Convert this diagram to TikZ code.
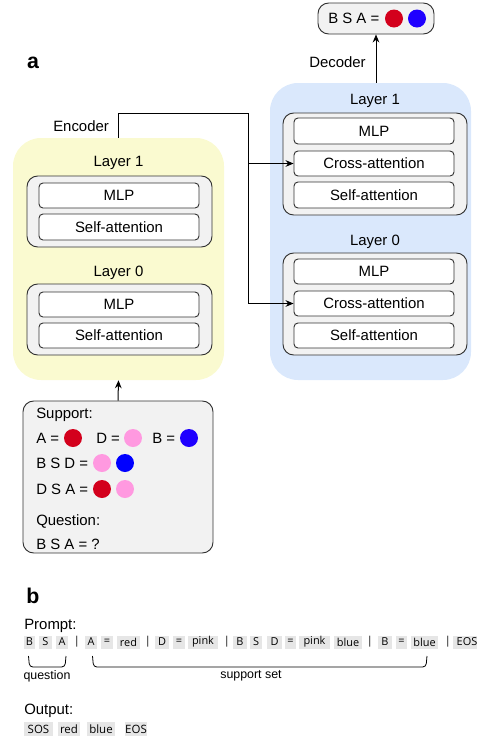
\documentclass[tikz,border=0pt]{standalone}
\usepackage{fontspec}
\setmainfont{Liberation Sans}
\newfontfamily\tokfont{Open Sans}
\usetikzlibrary{arrows.meta}

\definecolor{encfill}{HTML}{FAFAD0}
\definecolor{decfill}{HTML}{DAE8FC}
\definecolor{grpfill}{HTML}{F2F2F2}
\definecolor{edge}{HTML}{333333}
\definecolor{cred}{HTML}{D3001C}
\definecolor{cpink}{HTML}{FF99E0}
\definecolor{cblue}{HTML}{1F00FF}
\definecolor{tokfill}{HTML}{E6E6E6}

% box given by its corners (x1,y1) and (x2,y2) in pixel units
\newcommand\rbox[7]{\node[#6, minimum width={(#4-#2)*0.75pt}, minimum height={(#5-#3)*0.75pt}, inner sep=0pt] (#1) at ({(#2+#4)/2},{(#3+#5)/2}) {#7};}
% token chip from x1 to x2 on a row centred at y
\newcommand\tok[5]{\node[tokchip, minimum width={(#3-#2)*0.75pt}] (#1) at ({(#2+#3)/2},#4) {#5};}
\newcommand\otok[5]{\node[tokchip, outtok, minimum width={(#3-#2)*0.75pt}] (#1) at ({(#2+#3)/2},#4) {#5};}

\tikzset{
  encbgs/.style={fill=encfill, rounded corners=21pt},
  decbgs/.style={fill=decfill, rounded corners=21pt},
  group/.style={draw=edge, fill=grpfill, rounded corners=8pt, line width=0.7pt},
  inner/.style={draw=edge, fill=white, rounded corners=3pt, line width=0.7pt},
  plain/.style={inner sep=0pt},
  conn/.style={draw=black, line width=0.75pt, -{Stealth[length=6pt,width=5pt]}},
  dot/.style={circle, inner sep=0pt, minimum size=13.5pt},
  tokchip/.style={fill=tokfill, inner sep=0pt, minimum height=9.75pt, font=\tokfont\fontsize{8.2}{9}\selectfont},
  outtok/.style={minimum height=11pt, font=\tokfont\fontsize{8.6}{10}\selectfont},
  bar/.style={inner sep=0pt, font=\tokfont\fontsize{8.2}{9}\selectfont},
  brace/.style={draw=black, line width=0.6pt, rounded corners=2.5pt},
  small/.style={inner sep=0pt, font=\fontsize{9.3}{11}\selectfont},
  panel/.style={inner sep=0pt, font=\bfseries\fontsize{16}{18}\selectfont},
}

\begin{document}
\begin{tikzpicture}[x=0.75pt, y=-0.75pt, font=\fontsize{11.2}{13}\selectfont]
\useasboundingbox (0,0) rectangle (477,740);

% ---------- panel a ----------
\node[panel] (la) at (33,63) {a};

% encoder / decoder backgrounds
\rbox{encbg}{13}{138}{224}{380}{encbgs}{}
\rbox{decbg}{270}{83}{471}{380}{decbgs}{}

% encoder layers
\node[plain] (eT1) at (118.5,163) {Layer 1};
\rbox{eG1}{27}{176}{212}{247}{group}{}
\rbox{eM1}{39}{183}{199}{208}{inner}{MLP}
\rbox{eS1}{39}{214}{199}{240}{inner}{Self-attention}
\node[plain] (eT0) at (118.5,273) {Layer 0};
\rbox{eG0}{27}{284}{212}{355}{group}{}
\rbox{eM0}{39}{292}{199}{317}{inner}{MLP}
\rbox{eS0}{39}{323}{199}{348}{inner}{Self-attention}

% decoder layers
\node[plain] (dT1) at (375,101) {Layer 1};
\rbox{dG1}{283}{113}{467}{215}{group}{}
\rbox{dM1}{294}{118}{454}{144}{inner}{MLP}
\rbox{dC1}{294}{151}{454}{176}{inner}{Cross-attention}
\rbox{dS1}{294}{182}{454}{208}{inner}{Self-attention}
\node[plain] (dT0) at (375,242) {Layer 0};
\rbox{dG0}{283}{253}{467}{355}{group}{}
\rbox{dM0}{294}{259}{454}{284}{inner}{MLP}
\rbox{dC0}{294}{291}{454}{316}{inner}{Cross-attention}
\rbox{dS0}{294}{323}{454}{348}{inner}{Self-attention}

\node[plain, anchor=west] (enclab) at (53,126) {Encoder};
\node[plain, anchor=west] (declab) at (309,62) {Decoder};

% output box
\rbox{outb}{318}{3}{434}{34}{group}{}
\node[plain, anchor=west] (outtxt) at (328,18.5) {B S A =};
\node[dot, fill=cred] (o1) at (394,18.5) {};
\node[dot, fill=cblue] (o2) at (417,18.5) {};

% support box
\rbox{sup}{23}{401}{213}{553}{group}{}
\node[plain, anchor=west] (supT) at (36,415) {Support:};
\node[plain, anchor=west] (r1a) at (36,438) {A =};
\node[dot, fill=cred] (c1a) at (73,438) {};
\node[plain, anchor=west] (r1b) at (96,438) {D =};
\node[dot, fill=cpink] (c1b) at (133,438) {};
\node[plain, anchor=west] (r1c) at (152,438) {B =};
\node[dot, fill=cblue] (c1c) at (189,438) {};
\node[plain, anchor=west] (r2) at (36,463) {B S D =};
\node[dot, fill=cpink] (c2a) at (102,463) {};
\node[dot, fill=blue] (c2b) at (125,463) {};
\node[plain, anchor=west] (r3) at (36,489) {D S A =};
\node[dot, fill=cred] (c3a) at (102,489) {};
\node[dot, fill=cpink] (c3b) at (125,489) {};
\node[plain, anchor=west] (qT) at (36,521) {Question:};
\node[plain, anchor=west] (qL) at (36,544) {B S A = ?};

% connectors
\coordinate (split) at (248,113);
\draw[conn] (encbg.north) |- (split) |- (dC0.west);
\draw[conn] (split |- dC1.west) -- (dC1.west);
\draw[conn] (sup.north) -- (encbg.south);
\draw[conn] (outb.south |- decbg.north) -- (outb.south);

% ---------- panel b ----------
\node[panel] (lb) at (33,596) {b};
\node[plain, anchor=west] (prompt) at (24,626) {Prompt:};

\tok{p1}{24}{35}{642}{B}
\tok{p2}{39}{52}{642}{S}
\tok{p3}{56}{68}{642}{A}
\node[bar] (b1) at (77,642) {|};
\tok{p4}{85}{97}{642}{A}
\tok{p5}{101}{113}{642}{=}
\tok{p6}{117}{140}{642}{red}
\node[bar] (b2) at (148,642) {|};
\tok{p7}{155}{169}{642}{D}
\tok{p8}{173}{185}{642}{=}
\tok{p9}{188}{218}{642}{pink}
\node[bar] (b3) at (227,642) {|};
\tok{p10}{233}{247}{642}{B}
\tok{p11}{250}{262}{642}{S}
\tok{p12}{267}{282}{642}{D}
\tok{p13}{285}{296}{642}{=}
\tok{p14}{299}{330}{642}{pink}
\tok{p15}{334}{362}{642}{blue}
\node[bar] (b4) at (370,642) {|};
\tok{p16}{378}{392}{642}{B}
\tok{p17}{396}{407}{642}{=}
\tok{p18}{411}{438}{642}{blue}
\node[bar] (b5) at (448,642) {|};
\tok{p19}{453}{481}{642}{EOS}

% brackets under the prompt
\draw[brace] (28.5,656) -- (29.5,667) -- (65,667) -- (66,656);
\draw[brace] (92.5,656) -- (93.5,667) -- (426,667) -- (427,656);
\node[small] (qlab) at (47,676) {question};
\node[small] (slab) at (251,676) {support set};

\node[plain, anchor=west] (output) at (24,711) {Output:};
\otok{q1}{24}{53}{729}{SOS}
\otok{q2}{58}{80}{729}{red}
\otok{q3}{87}{115}{729}{blue}
\otok{q4}{125}{147}{729}{EOS}
\end{tikzpicture}
\end{document}
